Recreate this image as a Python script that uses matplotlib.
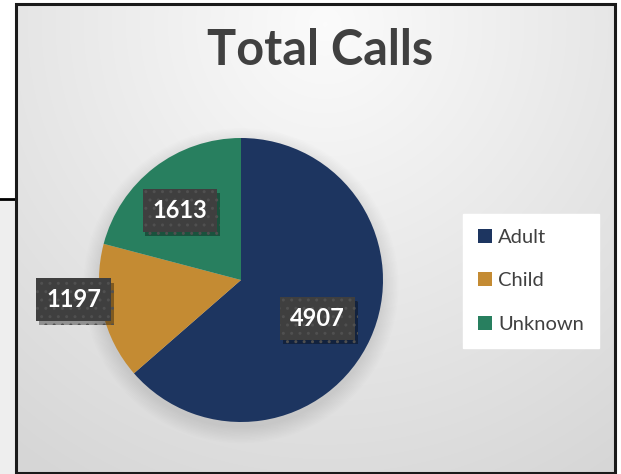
import numpy as np
import matplotlib
matplotlib.use('Agg')
import matplotlib.pyplot as plt
from matplotlib.patches import Circle, Rectangle
import matplotlib.patheffects as pe

# ==================== 数据 ====================
categories = ['Adult', 'Child', 'Unknown']
calls = [4907, 1197, 1613]
colors = ['#1d3560', '#c48b33', '#287f5f']
title = 'Total Calls'

# 数据标签位置（饼图半径为1的坐标）
label_pos = [(0.54, -0.27), (-1.18, -0.14), (-0.43, 0.49)]
# =============================================

W, H = 621, 474
plt.rcParams['font.family'] = ['Lato', 'DejaVu Sans']
fig = plt.figure(figsize=(W / 100, H / 100), dpi=100)

# 背景（像素坐标）
bg = fig.add_axes([0, 0, 1, 1])
bg.set_xlim(0, W)
bg.set_ylim(H, 0)
bg.axis('off')

yy, xx = np.mgrid[0:H, 0:W]
d = np.sqrt(((xx - 320) / 520.0) ** 2 + ((yy - 20) / 520.0) ** 2)
shade = np.clip(0.985 - 0.14 * d, 0.84, 0.985)
bg.imshow(np.dstack([shade] * 3), extent=[16, 615, 473, 4], zorder=0, aspect='auto')

# 左边框外的区域
bg.add_patch(Rectangle((0, 199), 16, H - 199, facecolor='#eeeeee', edgecolor='none', zorder=0))
bg.plot([0, 16], [199, 199], color='black', lw=2, zorder=1)
bg.add_patch(Rectangle((16, 4), 599, 469, facecolor='none', edgecolor='#1a1a1a', lw=2.2, zorder=5))

bg.text(320, 50, title, ha='center', va='center', fontsize=35, fontweight='bold', color='#404040')

# 饼图
cx, cy, R = 241, 280, 142
ax = fig.add_axes([(cx - R) / W, (H - cy - R) / H, 2 * R / W, 2 * R / H])
ax.axis('off')

# 柔和阴影
for i in range(12):
    r = 1.0 + 0.01 * i
    ax.add_patch(Circle((0, -0.04), r, facecolor='black', edgecolor='none',
                        alpha=0.009, zorder=0, clip_on=False))

wedges, _ = ax.pie(calls, colors=colors, startangle=90, counterclock=False,
                   radius=1.0, wedgeprops=dict(linewidth=0))
for w in wedges:
    w.set_zorder(2)
ax.set_xlim(-1, 1)
ax.set_ylim(-1, 1)

for val, (x, y) in zip(calls, label_pos):
    t = ax.text(x, y, f'{val}', ha='center', va='center',
                fontsize=17, fontweight='bold', color='white', zorder=4, clip_on=False,
                bbox=dict(boxstyle='square,pad=0.42', facecolor='#3f3f3f', edgecolor='#505050',
                          hatch='..', linewidth=0))
    t.get_bbox_patch().set_path_effects([
        pe.SimplePatchShadow(offset=(2, -3), shadow_rgbFace='black', alpha=0.35),
        pe.Normal()])

# 图例
leg = fig.legend(wedges, categories, loc='upper left',
                 bbox_to_anchor=(463 / W, 1 - 214 / H), borderaxespad=0,
                 frameon=True, fancybox=False,
                 fontsize=14.5, handlelength=0.7, handleheight=0.7, handletextpad=0.3,
                 labelspacing=1.3, borderpad=0.75, labelcolor='#404040')
leg.get_frame().set_facecolor('white')
leg.get_frame().set_edgecolor('white')
leg.get_frame().set_alpha(1)

fig.savefig('out.png', dpi=100)
